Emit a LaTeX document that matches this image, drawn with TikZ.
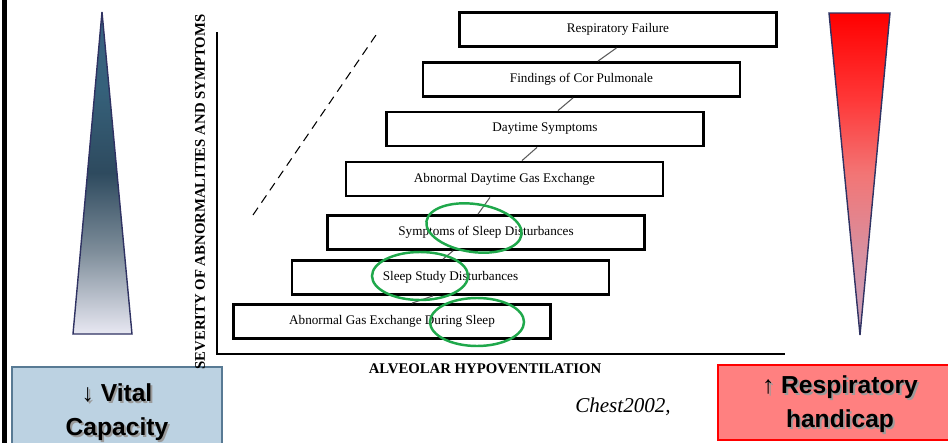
\documentclass[tikz,border=0pt]{standalone}
\usepackage{fontspec}
\setmainfont{Liberation Serif}
\newfontfamily\boldsans{Liberation Sans}
\usetikzlibrary{calc}
\definecolor{ink}{HTML}{000000}
\definecolor{linkgray}{HTML}{5A5A5A}
\definecolor{ringgreen}{HTML}{1FA84B}
\definecolor{navy}{HTML}{2F3262}
\definecolor{bluebox}{HTML}{BCD2E2}
\definecolor{blueedge}{HTML}{587A94}
\definecolor{redbox}{HTML}{FF8080}
\definecolor{shadowgray}{HTML}{9A9A9A}
\pgfdeclareverticalshading{tealwedge}{100bp}{rgb(0bp)=(0.91,0.91,0.95); rgb(25bp)=(0.91,0.91,0.95);
  rgb(38bp)=(0.49,0.55,0.60); rgb(50bp)=(0.18,0.29,0.37); rgb(63bp)=(0.21,0.38,0.48);
  rgb(75bp)=(0.23,0.39,0.51); rgb(100bp)=(0.23,0.39,0.51)}
\pgfdeclareverticalshading{redwedge}{100bp}{rgb(0bp)=(0.78,0.64,0.74); rgb(25bp)=(0.78,0.64,0.74);
  rgb(38bp)=(0.85,0.56,0.62); rgb(50bp)=(0.95,0.46,0.46); rgb(62bp)=(1,0.21,0.21);
  rgb(75bp)=(1,0,0); rgb(100bp)=(1,0,0)}
\newcommand\shadowed[1]{\makebox[0pt][l]{\hspace{1.1pt}\raisebox{-1.1pt}{\color{shadowgray}#1}}#1}
\tikzset{
  stage/.style={draw=ink,line width=1.6pt,fill=white,minimum width=6.34cm,minimum height=0.68cm,
    inner sep=0pt,font=\fontsize{7.5}{9}\selectfont},
  link/.style={linkgray,line width=0.6pt},
  ring/.style={ringgreen,line width=1.4pt},
  axislabel/.style={font=\bfseries\fontsize{8.4}{10}\selectfont},
  tag/.style={align=center,font=\boldsans\bfseries\fontsize{14}{19}\selectfont},
}
\begin{document}
\begin{tikzpicture}[x=0.02cm,y=-0.02cm]
\useasboundingbox (0,0) rectangle (948,443);
% frame line on the left
\draw[line width=2.3pt] (4.5,-5) -- (4.5,450);
% tapering wedges
\shade[shading=tealwedge] (102,12) -- (132,334) -- (73,334) -- cycle;
\draw[navy,line width=0.8pt] (102,12) -- (132,334) -- (73,334) -- cycle;
\shade[shading=redwedge] (829,13) -- (890,13) -- (860,335) -- cycle;
\draw[navy,line width=0.8pt] (829,13) -- (890,13) -- (860,335) -- cycle;
% bottom tags
\draw[blueedge,fill=bluebox,line width=0.8pt] (12,367) rectangle (222,460);
\node[tag] (vc) at (117,413) {\shadowed{↓ Vital}\\\shadowed{Capacity}};
\draw[red,fill=redbox,line width=1pt] (718,365) rectangle (960,440);
\node[tag] (rh) at (840,405) {\shadowed{↑ Respiratory}\\\shadowed{handicap}};
% axes
\draw[line width=1.1pt] (217,32) -- (217,354) -- (785,354);
\node[axislabel,rotate=90] (ylab) at (200,192) {SEVERITY OF ABNORMALITIES AND SYMPTOMS};
\node[axislabel] (xlab) at (485,369) {ALVEOLAR HYPOVENTILATION};
\draw[line width=0.6pt,dash pattern=on 5pt off 3.5pt] (253,215) -- (376,35);
% stages
\node[stage] (rf) at (618,29.5) {Respiratory Failure};
\node[stage] (cp) at (581.5,79.5) {Findings of Cor Pulmonale};
\node[stage] (ds) at (545,129) {Daytime Symptoms};
\node[stage] (adge) at (504.5,179) {Abnormal Daytime Gas Exchange};
\node[stage] (ssd) at (486,232.5) {Symptoms of Sleep Disturbances};
\node[stage] (sstd) at (450.5,277.5) {Sleep Study Disturbances};
\node[stage] (ages) at (392,321.5) {Abnormal Gas Exchange During Sleep};
\draw[link] ($(rf.south)+(-1.5,0)$) -- ($(cp.north)+(16.5,0)$);
\draw[link] ($(cp.south)+(-8.5,0)$) -- ($(ds.north)+(13,0)$);
\draw[link] ($(ds.south)+(-8,0)$) -- ($(adge.north)+(17.5,0)$);
\draw[link] ($(adge.south)+(-14.5,0)$) -- ($(ssd.north)+(-8,0)$);
\draw[link] ($(ssd.south)+(-33,0)$) -- ($(sstd.north)+(-7.5,0)$);
\draw[link] ($(sstd.south)+(-17.5,0)$) -- ($(ages.north)+(20,0)$);
% green marks
\draw[ring,rotate around={-8:(474,228)}] (474,228) ellipse [x radius=48,y radius=24];
\draw[ring] (420,276) ellipse [x radius=48,y radius=24];
\draw[ring] (477,322) ellipse [x radius=47,y radius=24];
% source
\node[font=\itshape\fontsize{12}{14}\selectfont] (src) at (623,407) {Chest2002,};
\end{tikzpicture}
\end{document}
